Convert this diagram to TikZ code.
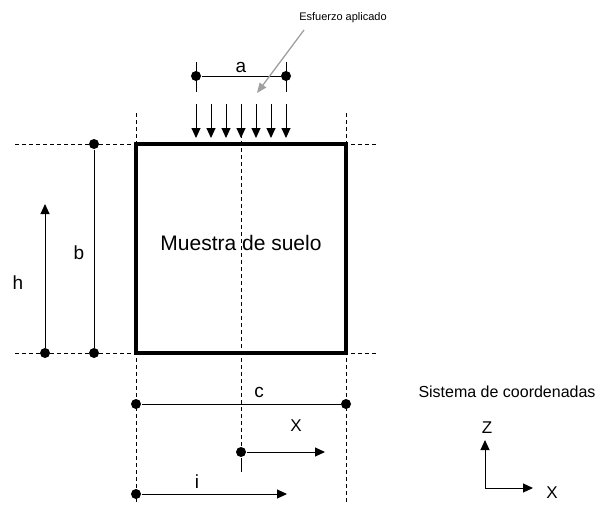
\documentclass[tikz,border=0pt]{standalone}
\usepackage{fontspec}
\setmainfont{Liberation Sans}
\usetikzlibrary{arrows.meta, calc}

\begin{document}
\begin{tikzpicture}[x=1pt, y=-1pt, line width=1pt,
    dot/.style={circle, fill, inner sep=0pt, minimum size=10pt},
    guide/.style={dash pattern=on 3.5pt off 3.5pt, line width=0.8pt},
    tip/.style={-{Triangle[length=10pt, width=9pt]}},
    lbl/.style={inner sep=0pt, font=\fontsize{19}{19}\selectfont}]
  \useasboundingbox (0,0) rectangle (597,504);
  % guias
  \coordinate (gl1) at (15,144); \coordinate (gr1) at (378,144);
  \coordinate (gl2) at (15,353); \coordinate (gr2) at (378,353);
  \coordinate (vl1) at (136,113); \coordinate (vl2) at (136,504);
  \coordinate (vr1) at (346,113); \coordinate (vr2) at (346,504);
  \coordinate (vc1) at (241,113); \coordinate (vc2) at (241,472);
  \draw[guide] (gl1) -- (gr1); \draw[guide] (gl2) -- (gr2);
  \draw[guide] (vl1) -- (vl2); \draw[guide] (vr1) -- (vr2);
  % muestra
  \coordinate (A) at (136,353); \coordinate (B) at (346,353); \coordinate (C) at (346,144); \coordinate (D) at (136,144);
  \draw[line width=3.4pt, line join=miter] (A) -- (B) -- (C) -- (D) -- cycle;
  \node[inner sep=0pt, font=\fontsize{21}{21}\selectfont] (muestra) at (241,243) {Muestra de suelo};
  % esfuerzo
  \foreach \k in {0,...,6}
    \draw[tip] ($(196,104)+(15*\k,0)$) -- ($(196,138)+(15*\k,0)$);
  \node[dot] (a1) at (196,76) {}; \node[dot] (a2) at (286,76) {};
  \coordinate (a1t) at (196,62); \coordinate (a1b) at (196,92);
  \coordinate (a2t) at (286,62); \coordinate (a2b) at (286,92);
  \draw (a1t) -- (a1b); \draw (a2t) -- (a2b);
  \draw (a1) -- (a2) node[lbl, midway, above=3pt] (la) {a};
  \node[inner sep=0pt, font=\fontsize{11}{11}\selectfont] (esf) at (343,18) {Esfuerzo aplicado};
  \coordinate (g1) at (304,30); \coordinate (g2) at (257,93);
  \draw[gray!75, line width=1.3pt, -{Triangle[length=10pt, width=8pt]}] (g1) -- (g2);
  % b y h
  \node[dot] (b1) at (94,144) {}; \node[dot] (b2) at (94,353) {};
  \draw (b1) -- (b2);
  \node[lbl] (lb) at (79,253) {b};
  \node[dot] (h1) at (45,353) {}; \coordinate (h2) at (45,204);
  \draw[tip] (h1) -- (h2);
  \node[lbl] (lh) at (18,283) {h};
  % c, x, i
  \node[dot] (c1) at (136,404) {}; \node[dot] (c2) at (346,404) {};
  \draw (c1) -- (c2);
  \node[lbl] (lc) at (259,392) {c};
  \node[dot] (x1) at (241,452) {}; \coordinate (x2) at (325,452);
  \draw[guide] (vc1) -- (x1); \draw (x1) -- (vc2);
  \draw[tip] (x1) -- (x2);
  \node[inner sep=0pt, font=\fontsize{17}{17}\selectfont] (lx) at (296,426) {X};
  \node[dot] (i1) at (136,494) {}; \coordinate (i2) at (287,494);
  \draw[tip] (i1) -- (i2);
  \node[lbl] (li) at (197,482) {i};
  % sistema de coordenadas
  \node[inner sep=0pt, font=\fontsize{16}{16}\selectfont] (sis) at (507,392) {Sistema de coordenadas};
  \coordinate (o) at (485,488); \coordinate (oz) at (485,440); \coordinate (ox) at (533,488);
  \draw[tip] (o) -- (oz); \draw[tip] (o) -- (ox);
  \node[inner sep=0pt, font=\fontsize{17}{17}\selectfont] (lz) at (487,428) {Z};
  \node[inner sep=0pt, font=\fontsize{17}{17}\selectfont] (lxx) at (552,493) {X};
\end{tikzpicture}
\end{document}
